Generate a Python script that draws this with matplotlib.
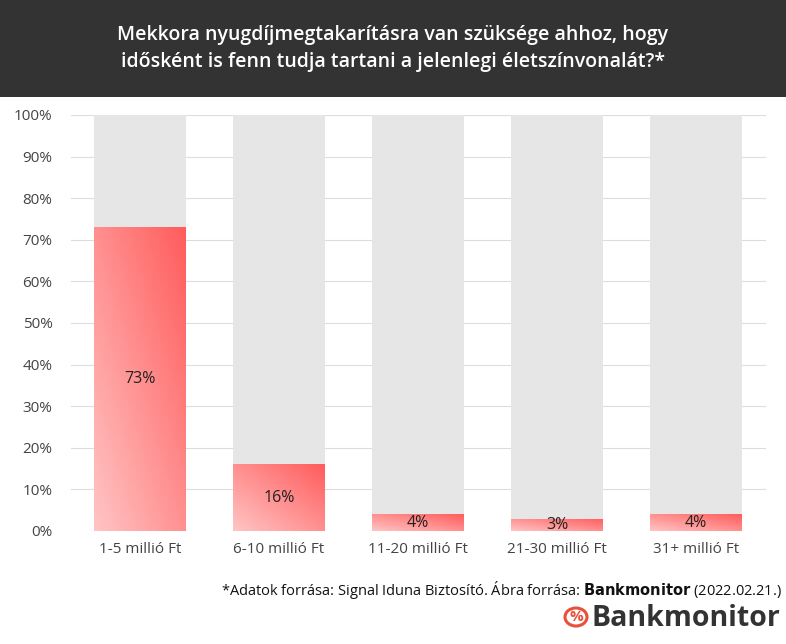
import numpy as np
import matplotlib.pyplot as plt
from matplotlib.colors import LinearSegmentedColormap
from matplotlib.patches import Circle

plt.rcParams['font.family'] = ['Open Sans', 'DejaVu Sans']

categories = ['1-5 millió Ft', '6-10 millió Ft', '11-20 millió Ft', '21-30 millió Ft', '31+ millió Ft']
values = [73, 16, 4, 3, 4]
yticks = [0, 10, 20, 30, 40, 50, 60, 70, 80, 90, 100]

W, H = 786, 644
fig = plt.figure(figsize=(W / 100, H / 100), dpi=100)

# header band
hdr = fig.add_axes([0, 1 - 97 / H, 1, 97 / H])
hdr.set_facecolor('#333333')
hdr.set_xticks([]); hdr.set_yticks([])
for s in hdr.spines.values():
    s.set_visible(False)
hdr.text(0.5, 0.5, 'Mekkora nyugdíjmegtakarításra van szüksége ahhoz, hogy\nidősként is fenn tudja tartani a jelenlegi életszínvonalát?*',
         color='white', fontsize=14, fontweight='semibold', ha='center', va='center',
         linespacing=1.5, transform=hdr.transAxes)

ax = fig.add_axes([70.5 / W, 1 - 531 / H, 695 / W, 416 / H])
x = np.arange(len(categories))
bw = 0.66
ax.bar(x, [100] * len(x), width=bw, color='#e6e6e6', zorder=1)

cmap = LinearSegmentedColormap.from_list('g', ['#ffc4c4', '#ff5c5c'])
grad = np.add.outer(np.linspace(0, 1, 100), np.linspace(0, 1, 100)) / 2
bars = ax.bar(x, values, width=bw, color='none', zorder=2)
for b, v in zip(bars, values):
    x0 = b.get_x()
    im = ax.imshow(grad, cmap=cmap, origin='lower', aspect='auto',
                   extent=[x0, x0 + bw, 0, v], zorder=2)
    im.set_clip_path(b)
    ax.text(b.get_x() + bw / 2, v / 2, f'{v}%', ha='center', va='center',
            fontsize=11.5, color='#222222', zorder=3)

ax.set_xlim(-0.5, len(x) - 0.5)
ax.set_ylim(0, 100)
ax.set_yticks(yticks)
ax.set_yticklabels([f'{t}%' for t in yticks], fontsize=11, color='#444444')
ax.set_xticks(x)
ax.set_xticklabels(categories, fontsize=11, color='#444444')
ax.tick_params(length=0, pad=8)
ax.tick_params(axis='y', pad=13)
ax.grid(axis='y', color='#dddddd', lw=0.8, zorder=0)
ax.set_axisbelow(True)
for s in ax.spines.values():
    s.set_visible(False)

fig.text(782 / W, 1 - 590 / H, '*Adatok forrása: Signal Iduna Biztosító. Ábra forrása: $\\bf{Bankmonitor}$ (2022.02.21.)',
         ha='right', va='center', fontsize=10.5, color='#111111')

# logo
fig.text(780 / W, 1 - 618 / H, 'Bankmonitor', ha='right', va='center',
         fontsize=20.5, fontweight='bold', color='#333333')
fig.patches.append(Circle((576 / W, 1 - 617 / H), 11 / W, transform=fig.transFigure,
                          fill=False, ec='#e8503a', lw=2.2))
fig.text(576 / W, 1 - 617 / H, '%', ha='center', va='center', fontsize=11,
         fontweight='bold', color='#e8503a')

fig.savefig('out.png', dpi=100, facecolor='white')
